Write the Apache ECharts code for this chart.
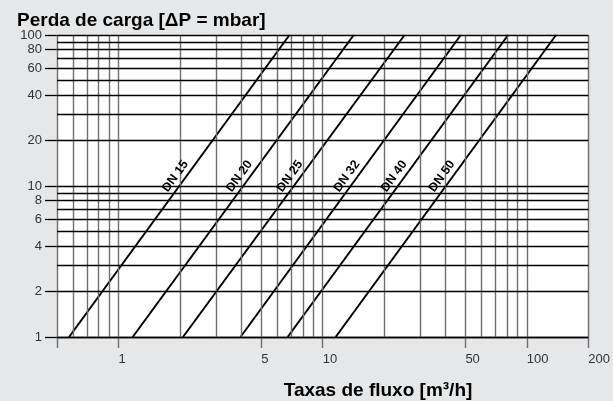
<!DOCTYPE html>
<html><head><meta charset="utf-8">
<script src="https://cdn.jsdelivr.net/npm/echarts@6/dist/echarts.min.js"></script>
<style>html,body{margin:0;padding:0;background:#e6e7e9}#c{width:613px;height:401px}</style>
</head><body><div id="c"></div>
<script>
// ---- data ----
const lineNames = ['DN 15', 'DN 20', 'DN 25', 'DN 32', 'DN 40', 'DN 50'];
const flowAt1mbar = [0.573, 1.174, 2.07, 3.96, 6.74, 11.58];     // m3/h at ΔP = 1 mbar
const flowAt100mbar = [6.88, 14.2, 25.2, 47.5, 81.0, 139];       // m3/h at ΔP = 100 mbar
const pressureEnds = [1, 100];
const xGrid = [0.5,0.6,0.7,0.8,0.9,1,2,3,4,5,6,7,8,9,10,20,30,40,50,60,70,80,90,100,200];
const yGrid = [1,2,3,4,5,6,7,8,9,10,20,30,40,50,60,70,80,90,100];
const xTickMarks = [0.5, 1, 5, 10, 50, 100, 200];
const xTickLabels = [1, 5, 10, 50, 100, 200];
const yTickLabels = [1, 2, 4, 6, 8, 10, 20, 40, 60, 80, 100];
const titleText = 'Perda de carga [ΔP = mbar]';
const xTitleText = 'Taxas de fluxo [m³/h]';

// ---- chart ----
const FONT = 'Liberation Sans';
const labelPressure = 11.6;
const labelShiftPx = 11, pxPerDecade = 204.5;
function labelFlow(i) {
  const la = Math.log10(flowAt1mbar[i]), lb = Math.log10(flowAt100mbar[i]);
  const t = (Math.log10(labelPressure) - Math.log10(pressureEnds[0])) / (Math.log10(pressureEnds[1]) - Math.log10(pressureEnds[0]));
  return Math.pow(10, la + (lb - la) * t - labelShiftPx / pxPerDecade);
}

const chart = echarts.init(document.getElementById('c'), null, {renderer: 'canvas'});
const series = [
  {
    type: 'line', data: [], silent: true, z: 1,
    markLine: {
      silent: true, symbol: 'none', animation: false, label: {show: false},
      lineStyle: {color: '#6e6e6e', width: 1.4, type: 'solid'},
      data: xGrid.map(v => ({xAxis: v}))
    }
  },
  {
    type: 'line', data: [], silent: true, z: 2,
    markLine: {
      silent: true, symbol: 'none', animation: false, label: {show: false},
      lineStyle: {color: '#000', width: 1.3, type: 'solid'},
      data: yGrid.map(v => ({yAxis: v}))
    }
  }
].concat(lineNames.map((n, i) => ({
  type: 'line', name: n, z: 3, silent: true,
  data: [[flowAt1mbar[i], pressureEnds[0]], [flowAt100mbar[i], pressureEnds[1]]],
  symbol: 'none', lineStyle: {color: '#000', width: 2},
  markPoint: {
    symbol: 'circle', symbolSize: 0, animation: false, silent: true,
    data: [{name: n, coord: [labelFlow(i), labelPressure]}],
    label: {show: true, position: 'inside', formatter: n, rotate: 54, color: '#000',
            fontWeight: 'bold', fontSize: 12.5, fontFamily: FONT}
  }
})));

chart.setOption({
  animation: false,
  backgroundColor: '#e6e7e9',
  title: [
    {text: titleText, left: 17, top: 11, padding: 0, z: 10,
     textStyle: {fontFamily: FONT, fontWeight: 'bold', fontSize: 19, color: '#000'}},
    {text: xTitleText, left: 378, top: 381, padding: 0, textAlign: 'center',
     textStyle: {fontFamily: FONT, fontWeight: 'bold', fontSize: 19, color: '#000'}}
  ],
  grid: {left: 57, right: 21, top: 35, bottom: 64, show: true, backgroundColor: '#fff', borderWidth: 0, containLabel: false},
  xAxis: {
    type: 'log', logBase: 10, min: 0.5, max: 200,
    splitLine: {show: false},
    axisLine: {show: true, lineStyle: {color: '#000', width: 1.3}},
    axisTick: {show: true, customValues: xTickMarks, length: 11, lineStyle: {color: '#6e6e6e', width: 1.4}},
    axisLabel: {show: true, customValues: xTickLabels, align: 'left', margin: 16, color: '#333',
                fontFamily: FONT, fontSize: 13, formatter: v => String(v)}
  },
  yAxis: {
    type: 'log', logBase: 10, min: 1, max: 100,
    splitLine: {show: false},
    axisLine: {show: false},
    axisTick: {show: true, customValues: yTickLabels, length: 12, lineStyle: {color: '#000', width: 1.3}},
    axisLabel: {show: true, customValues: yTickLabels, margin: 15, color: '#333',
                fontFamily: FONT, fontSize: 13, formatter: v => String(v)}
  },
  series: series
});
</script></body></html>
